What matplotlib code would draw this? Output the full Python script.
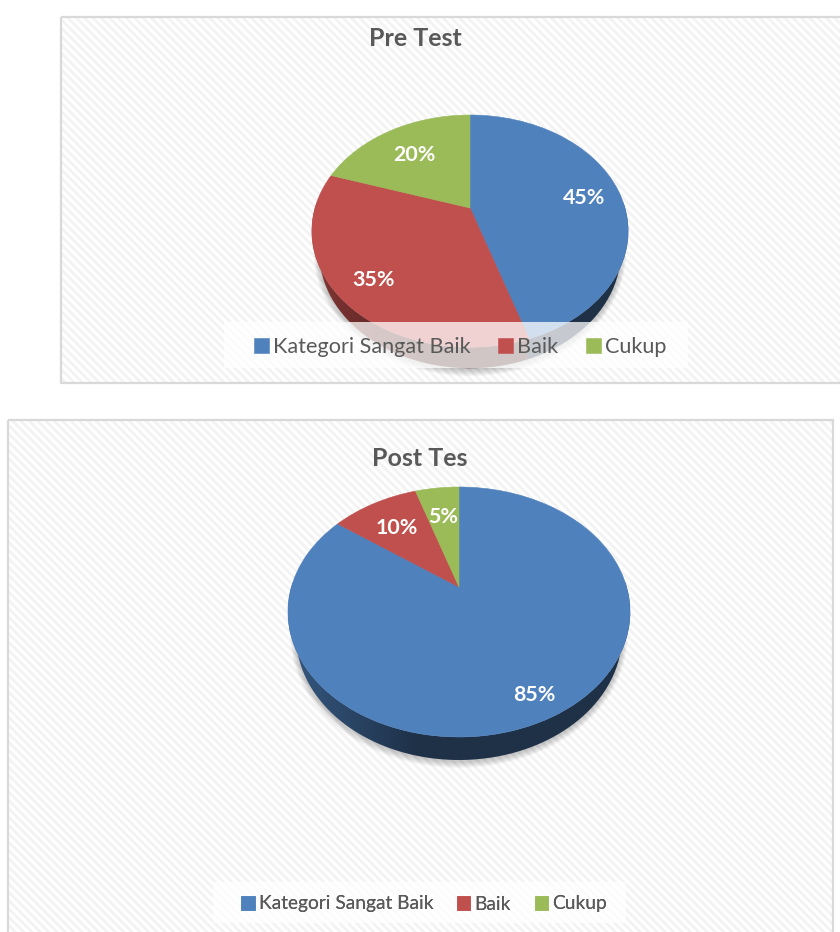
import numpy as np
import matplotlib
matplotlib.use("Agg")
import matplotlib.pyplot as plt
from matplotlib.patches import Rectangle, Ellipse, PathPatch
from matplotlib.path import Path
from matplotlib.transforms import Transform
from matplotlib.colors import to_rgb

plt.rcParams['font.family'] = ['Lato', 'DejaVu Sans']
plt.rcParams['hatch.linewidth'] = 2.0

categories = ["Kategori Sangat Baik", "Baik", "Cukup"]
colors = ["#4f81bd", "#c0504d", "#9bbb59"]

pre_title = "Pre Test"
pre_values = [45, 35, 20]
pre_label_radius = [0.76, 0.78, 0.68]

post_title = "Post Tes"
post_values = [85, 10, 5]
post_label_radius = [0.84, 0.70, 0.70]

# the wall's lower rim is a bit narrower than the top face
RIM = 0.953


# tilted disc: unit circle -> picture pixels, apex is not the middle of the ellipse
class Tilt(Transform):
	input_dims = 2
	output_dims = 2

	def __init__(self, cx, cy, a, b, k):
		super().__init__()
		self.cx, self.cy, self.a, self.b, self.k = cx, cy, a, b, k

	def transform_non_affine(self, values):
		values = np.asarray(values, dtype=float)
		w = 1 + self.k * values[:, 1]
		return np.column_stack([self.cx + self.b * values[:, 0] / w, self.cy - self.a * values[:, 1] / w])


def draw_panel(ax, frame, title, title_xy, values, radius, cx, cy, a, b, k, depth, band, legend_pos, legend_size):
	x0, y0, w, h = frame
	ax.add_patch(Rectangle((x0, y0), w, h, facecolor="white", edgecolor="#f3f3f3", hatch="\\\\\\\\", lw=0, zorder=0))
	ax.add_patch(Rectangle((x0, y0), w, h, fill=False, edgecolor="#d9d9d9", lw=1.6, zorder=1))
	ax.text(title_xy[0], title_xy[1], title, fontsize=18, fontweight="bold",
		color="#595959", ha="center", va="center", zorder=8)

	tilt = Tilt(cx, cy, a, b, k)
	wedges = ax.pie(values, colors=colors, startangle=90, counterclock=False)[0]

	# soft shadow under the disc
	top = tilt.transform(np.array([[0., 1.]]))[0, 1]
	bottom = tilt.transform(np.array([[0., -1.]]))[0, 1]
	mid = (top + bottom) / 2
	circle = np.linspace(0, 2 * np.pi, 721)
	rx = np.abs(tilt.transform(np.column_stack([np.cos(circle), np.sin(circle)]))[:, 0] - cx).max()
	for grow in range(7, 0, -1):
		ax.add_patch(Ellipse((cx, mid + depth + 1), 2 * rx * RIM + grow * 1.6, bottom - top + grow * 2.0, facecolor="#000000", alpha=0.03, lw=0, zorder=2))

	# side wall of each wedge, shaded left to right
	us = np.linspace(-1, 1, 256)
	shade = np.interp(us, [-1, -0.25, 1], [0.68, 0.38, 0.38])
	for w_, col in zip(wedges, colors):
		t = np.radians(np.linspace(w_.theta1, w_.theta2, 400))
		t = t[np.sin(t) < 0.05]
		if len(t) == 0:
			continue
		arc = tilt.transform(np.column_stack([np.cos(t), np.sin(t)]))
		low = arc[::-1].copy()
		low[:, 0] = cx + (low[:, 0] - cx) * RIM
		low[:, 1] += depth
		poly = Path(np.vstack([arc, low, arc[:1]]), closed=True)
		img = np.array(to_rgb(col))[None, None, :] * shade[None, :, None]
		im = ax.imshow(img, extent=(cx - rx, cx + rx, bottom + depth + 2, top), aspect="auto", zorder=3)
		clip = PathPatch(poly, transform=ax.transData, facecolor="none", lw=0)
		im.set_clip_path(clip)

	for w_, col in zip(wedges, colors):
		w_.set_transform(tilt + ax.transData)
		w_.set_zorder(4)
		w_.set_edgecolor(col)
		w_.set_linewidth(0.4)

	for w_, v, r in zip(wedges, values, radius):
		th = np.radians((w_.theta1 + w_.theta2) / 2)
		px, py = tilt.transform(np.array([[r * np.cos(th), r * np.sin(th)]]))[0]
		ax.text(px, py + 2.5, f"{v}%", color="white", fontsize=15.4, fontweight="bold", ha="center", va="center", zorder=5)

	# legend band sits over the pie
	ax.add_patch(Rectangle((band[0], band[1]), band[2], band[3], facecolor="white", alpha=0.75, lw=0, zorder=6))
	leg = ax.legend(wedges, categories, ncols=3, loc="center", bbox_to_anchor=legend_pos, bbox_transform=ax.transData,
		fontsize=legend_size, frameon=False,
		handlelength=0.7, handleheight=0.7, handletextpad=0.2, columnspacing=1.25, borderpad=0, labelcolor="#595959")
	leg.set_zorder(7)
	ax.add_artist(leg)


fig = plt.figure(figsize=(8.4, 9.32), dpi=100)
ax = fig.add_axes([0, 0, 1, 1])

draw_panel(ax, (60.5, 16.5, 800, 366.5), pre_title, (415, 39), pre_values, pre_label_radius,
	470, 208, 111.5, 155, 0.199, 21, (224, 322, 464, 46), (460, 347), 15.6)
draw_panel(ax, (7.5, 419.5, 825.5, 540), post_title, (420, 459), post_values, post_label_radius,
	459, 587, 120, 167.6, 0.2, 23, (213, 882, 413, 41), (424, 904), 13.8)

ax.set_xlim(0, 840)
ax.set_ylim(932, 0)
ax.set_aspect("auto")
ax.axis("off")

fig.savefig("out.png", dpi=100)
